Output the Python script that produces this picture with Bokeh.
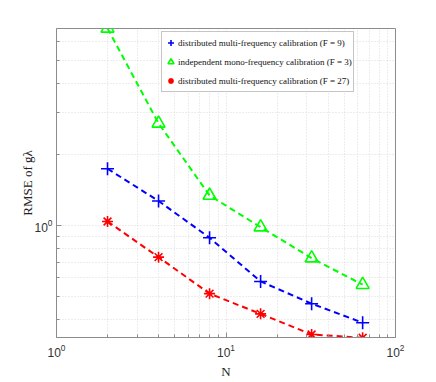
from bokeh.plotting import figure
from bokeh.models import FixedTicker, Legend, LegendItem, Range1d
from bokeh.embed import file_html
from bokeh.resources import INLINE

# ---- data ----
N = [2, 4, 8, 16, 32, 64]
rmse_multi_f9 = [1.74, 1.27, 0.887, 0.579, 0.466, 0.387]
rmse_mono_f3 = [6.85, 2.71, 1.34, 0.984, 0.727, 0.561]
rmse_multi_f27 = [1.04, 0.734, 0.514, 0.422, 0.345, 0.334]
series_labels = [
    "distributed multi-frequency calibration (F = 9)",
    "independent mono-frequency calibration (F = 3)",
    "distributed multi-frequency calibration (F = 27)",
]
x_major = [1, 10, 100]
x_minor = [2, 3, 4, 5, 6, 7, 8, 9, 20, 30, 40, 50, 60, 70, 80, 90]
y_major = [1]
y_minor = [0.4, 0.5, 0.6, 0.7, 0.8, 0.9, 2, 3, 4, 5, 6]

AX = "#8c8c8c"
GRID = "#dadada"

p = figure(width=436, height=382, x_axis_type="log", y_axis_type="log",
           x_range=Range1d(1, 100), y_range=Range1d(0.335, 6.84),
           output_backend="svg", toolbar_location=None,
           min_border_left=56, min_border_right=41,
           min_border_top=28, min_border_bottom=45)

p.background_fill_color = "white"
p.outline_line_color = AX
p.outline_line_width = 1

xt = FixedTicker(ticks=x_major, minor_ticks=x_minor)
yt = FixedTicker(ticks=y_major, minor_ticks=y_minor)

def style_axis(ax, ticker):
    ax.ticker = ticker
    ax.axis_line_color = AX
    ax.major_tick_line_color = AX
    ax.minor_tick_line_color = AX
    ax.major_tick_in = 5
    ax.major_tick_out = 0
    ax.minor_tick_in = 3
    ax.minor_tick_out = 0
    ax.major_label_text_font = "Liberation Sans"
    ax.major_label_text_color = "#333333"
    ax.major_label_text_font_size = "12px"

style_axis(p.xaxis[0], xt)
style_axis(p.yaxis[0], yt)
p.xaxis[0].major_label_standoff = 6
p.yaxis[0].major_label_standoff = 4

p.xaxis.axis_label = "N"
p.xaxis.axis_label_text_font = "Liberation Serif"
p.xaxis.axis_label_text_font_style = "normal"
p.xaxis.axis_label_text_font_size = "13px"
p.xaxis.axis_label_text_color = "#222222"
p.xaxis.axis_label_standoff = 4
p.yaxis.axis_label = "RMSE of gλ"
p.yaxis.axis_label_text_font = "Liberation Serif"
p.yaxis.axis_label_text_font_style = "normal"
p.yaxis.axis_label_text_font_size = "13px"
p.yaxis.axis_label_text_color = "#222222"
p.yaxis.axis_label_standoff = -4

for g in (p.xgrid[0], p.ygrid[0]):
    g.grid_line_color = GRID
    g.grid_line_dash = "1 2"
    g.minor_grid_line_color = GRID
    g.minor_grid_line_dash = "1 2"

colors = ["#0000ff", "#00ff00", "#ff0000"]
markers = ["cross", "triangle", "asterisk"]
sizes = [13, 13, 11]
data = [rmse_multi_f9, rmse_mono_f3, rmse_multi_f27]

items = []
for vals, c, m, s, lab in zip(data, colors, markers, sizes, series_labels):
    p.line(N, vals, line_color=c, line_width=2, line_dash="6 4")
    r = p.scatter(N, vals, marker=m, size=s, line_color=c, fill_color=None, line_width=1.6)
    items.append(LegendItem(label=lab, renderers=[r]))

legend = Legend(items=items, location=(105, 245))
legend.border_line_color = AX
legend.border_line_width = 1
legend.background_fill_color = "white"
legend.background_fill_alpha = 1
legend.label_text_font = "Liberation Serif"
legend.label_text_font_size = "9px"
legend.label_text_color = "#111111"
legend.glyph_width = 15
legend.glyph_height = 19
legend.label_height = 19
legend.label_standoff = 0
legend.spacing = 0
legend.padding = 1
legend.margin = 0
p.add_layout(legend)

open("out.html", "w").write(file_html(p, INLINE))
